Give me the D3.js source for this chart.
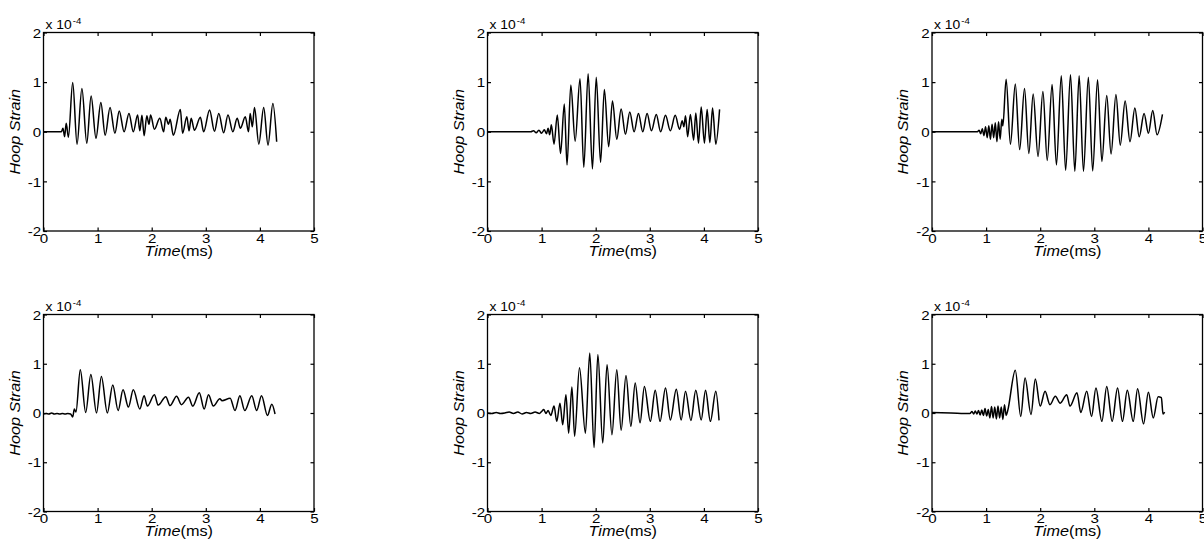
<!DOCTYPE html>
<html>
<head>
<meta charset="utf-8">
<script src="https://d3js.org/d3.v7.min.js"></script>
<style>
	body { margin: 0; background: #fff; }
	svg text { font-family: Arial, "Liberation Sans", Helvetica, sans-serif; fill: #000; }
</style>
</head>
<body>
<svg id="chart" width="1204" height="546"></svg>
<script>
// hoop strain records, values in units of 1e-4, time in ms
// (peaks and troughs)
var t1 = [0, 0.33, 0.36, 0.39, 0.42, 0.46, 0.54, 0.62, 0.71, 0.80,
	0.88, 0.97, 1.06, 1.14, 1.23, 1.32, 1.40, 1.49, 1.58, 1.66,
	1.74, 1.78, 1.82, 1.86, 1.91, 1.95, 1.98, 2.05, 2.15, 2.22,
	2.26, 2.31, 2.34, 2.40, 2.53, 2.57, 2.65, 2.69, 2.73, 2.79,
	2.90, 2.96, 3.07, 3.16, 3.24, 3.33, 3.41, 3.50, 3.58, 3.64,
	3.73, 3.79, 3.82, 3.86, 3.90, 3.98, 4.07, 4.15, 4.24, 4.31];
var v1 = [0, 0, 0.07, -0.10, 0.17, -0.11, 0.99, -0.25, 0.87, -0.23,
	0.72, -0.13, 0.59, -0.07, 0.49, -0.03, 0.42, 0.00, 0.37, 0.00,
	0.34, 0.02, 0.33, -0.08, 0.32, 0.15, 0.34, 0.05, 0.27, 0.00,
	0.29, 0.15, 0.25, -0.07, 0.45, -0.03, 0.30, 0.02, 0.27, 0.03,
	0.29, 0.00, 0.44, 0.01, 0.37, -0.02, 0.34, 0.00, 0.27, 0.07,
	0.30, 0.00, 0.37, 0.10, 0.49, -0.25, 0.49, -0.27, 0.57, -0.20];

var t2 = [0, 0.80, 0.85, 0.90, 0.95, 1.00, 1.05, 1.09, 1.12, 1.15,
	1.18, 1.23, 1.29, 1.35, 1.42, 1.47, 1.54, 1.62, 1.71, 1.78,
	1.86, 1.94, 2.01, 2.09, 2.16, 2.24, 2.31, 2.39, 2.47, 2.55,
	2.63, 2.71, 2.79, 2.87, 2.95, 3.03, 3.12, 3.20, 3.29, 3.38,
	3.47, 3.55, 3.60, 3.63, 3.66, 3.70, 3.75, 3.81, 3.85, 3.90,
	3.95, 4.01, 4.06, 4.11, 4.16, 4.22, 4.29];
var v2 = [0, 0, 0.02, -0.02, 0.03, -0.03, 0.04, -0.04, 0.07, -0.06,
	0.14, -0.25, 0.34, -0.44, 0.56, -0.67, 0.94, -0.19, 1.07, -0.72,
	1.17, -0.75, 1.10, -0.62, 0.85, -0.30, 0.62, -0.15, 0.46, -0.05,
	0.40, 0.00, 0.37, 0.00, 0.37, 0.02, 0.35, 0.00, 0.33, 0.02,
	0.33, 0.05, 0.22, 0.10, 0.32, -0.10, 0.35, -0.17, 0.38, -0.23,
	0.50, -0.23, 0.45, -0.22, 0.48, -0.25, 0.45];

var t3 = [0, 0.84, 0.87, 0.90, 0.93, 0.96, 0.99, 1.02, 1.05, 1.08,
	1.11, 1.14, 1.17, 1.20, 1.23, 1.26, 1.29, 1.31, 1.37, 1.45,
	1.54, 1.62, 1.71, 1.79, 1.87, 1.96, 2.05, 2.13, 2.22, 2.30,
	2.39, 2.47, 2.56, 2.64, 2.72, 2.80, 2.89, 2.97, 3.06, 3.14,
	3.23, 3.31, 3.40, 3.48, 3.57, 3.66, 3.75, 3.83, 3.92, 4.00,
	4.08, 4.16, 4.26];
var v3 = [0, 0, 0.03, -0.04, 0.06, -0.08, 0.10, -0.12, 0.12, -0.15,
	0.15, -0.12, 0.18, -0.20, 0.20, -0.15, 0.25, 0.12, 1.06, -0.25,
	0.96, -0.36, 0.87, -0.44, 0.76, -0.50, 0.81, -0.58, 0.95, -0.67,
	1.13, -0.78, 1.15, -0.80, 1.13, -0.80, 1.10, -0.79, 1.05, -0.60,
	0.73, -0.45, 0.75, -0.27, 0.62, -0.20, 0.48, -0.10, 0.37, -0.03,
	0.43, -0.06, 0.35];

var t4 = [0, 0.05, 0.10, 0.15, 0.20, 0.25, 0.30, 0.35, 0.40, 0.45,
	0.50, 0.54, 0.57, 0.60, 0.68, 0.78, 0.875, 0.98, 1.07, 1.18,
	1.28, 1.38, 1.47, 1.57, 1.66, 1.78, 1.86, 1.92, 2.05, 2.12,
	2.26, 2.34, 2.46, 2.55, 2.68, 2.76, 2.88, 2.97, 3.05, 3.14,
	3.26, 3.30, 3.45, 3.54, 3.63, 3.72, 3.85, 3.94, 4.03, 4.14,
	4.22, 4.28];
var v4 = [-0.02, -0.01, -0.02, 0.00, -0.02, -0.01, -0.02, -0.01, -0.02, -0.01,
	-0.02, -0.08, 0.08, 0.02, 0.88, 0.01, 0.78, 0.00, 0.74, 0.00,
	0.57, 0.05, 0.47, 0.12, 0.47, 0.08, 0.35, 0.14, 0.37, 0.16,
	0.33, 0.15, 0.34, 0.17, 0.32, 0.14, 0.41, 0.08, 0.37, 0.14,
	0.29, 0.25, 0.30, 0.05, 0.35, 0.05, 0.35, 0.05, 0.35, -0.05,
	0.18, -0.02];

var t5 = [0, 0.08, 0.16, 0.24, 0.32, 0.40, 0.48, 0.56, 0.64, 0.72,
	0.80, 0.88, 0.96, 1.00, 1.04, 1.08, 1.12, 1.17, 1.23, 1.28,
	1.34, 1.39, 1.45, 1.50, 1.56, 1.61, 1.70, 1.81, 1.89, 1.97,
	2.04, 2.13, 2.21, 2.30, 2.39, 2.47, 2.56, 2.65, 2.73, 2.82,
	2.90, 3.01, 3.10, 3.19, 3.29, 3.38, 3.49, 3.58, 3.66, 3.76,
	3.85, 3.95, 4.03, 4.12, 4.22, 4.28];
var v5 = [0, -0.01, 0.01, -0.01, 0.00, 0.02, -0.01, 0.02, -0.02, 0.01,
	-0.01, 0.02, -0.01, 0.03, 0.07, -0.01, 0.05, -0.05, 0.14, -0.17,
	0.20, -0.24, 0.37, -0.41, 0.53, -0.47, 0.92, -0.41, 1.22, -0.70,
	1.19, -0.61, 0.98, -0.44, 0.88, -0.35, 0.76, -0.27, 0.61, -0.20,
	0.54, -0.17, 0.46, -0.17, 0.51, -0.14, 0.48, -0.14, 0.44, -0.15,
	0.46, -0.14, 0.46, -0.17, 0.44, -0.15];

var t6 = [0, 0.35, 0.70, 0.74, 0.77, 0.80, 0.83, 0.86, 0.89, 0.92,
	0.95, 0.98, 1.01, 1.04, 1.07, 1.10, 1.13, 1.16, 1.19, 1.22,
	1.25, 1.28, 1.31, 1.34, 1.37, 1.40, 1.54, 1.64, 1.72, 1.83,
	1.91, 2.00, 2.09, 2.18, 2.28, 2.37, 2.49, 2.55, 2.68, 2.75,
	2.86, 2.95, 3.03, 3.14, 3.23, 3.33, 3.43, 3.52, 3.61, 3.72,
	3.80, 3.91, 4.00, 4.09, 4.18, 4.24, 4.27, 4.30];
var v6 = [0.01, 0.00, -0.01, 0.03, -0.02, 0.04, -0.02, 0.05, -0.04, 0.06,
	-0.05, 0.09, -0.06, 0.07, -0.10, 0.13, -0.10, 0.12, -0.12, 0.14,
	-0.10, 0.12, -0.13, 0.17, -0.05, 0.05, 0.87, -0.07, 0.71, -0.03,
	0.69, 0.14, 0.44, 0.17, 0.34, 0.20, 0.37, 0.14, 0.41, 0.01,
	0.44, -0.07, 0.51, -0.17, 0.54, -0.17, 0.51, -0.17, 0.46, -0.17,
	0.49, -0.22, 0.42, -0.10, 0.33, 0.31, -0.02, 0.02];

var xTicks = [0, 1, 2, 3, 4, 5];
var yTicks = [-2, -1, 0, 1, 2];
var yTickLabels = ["-2", "-1", "0", "1", "2"];
var xLabelName = "Time", xLabelUnit = "(ms)";
var yLabelText = "Hoop Strain";
var expBase = "x 10", expPower = "-4";

// layout
var WIDTH = 270.5, STRETCH = 1.12;
var COLS = [43.5, 487.5, 932];
var ROWS = [{ top: 32.5, bottom: 231 }, { top: 314.5, bottom: 511.5 }];

var panels = [
	{ t: t1, v: v1, col: 0, row: 0 },
	{ t: t2, v: v2, col: 1, row: 0 },
	{ t: t3, v: v3, col: 2, row: 0 },
	{ t: t4, v: v4, col: 0, row: 1 },
	{ t: t5, v: v5, col: 1, row: 1 },
	{ t: t6, v: v6, col: 2, row: 1 }
];

function styleAxis(g) {
	g.attr("font-size", 13.5).attr("font-family", null);
	g.select(".domain").remove();
	g.selectAll(".tick line").attr("stroke", "#000").attr("stroke-width", 1.2);
}

function drawPanel(vis, p) {
	var left = COLS[p.col], top = ROWS[p.row].top, bottom = ROWS[p.row].bottom;
	var xScale = d3.scaleLinear().domain([0, 5]).range([left, left + WIDTH]);
	var yScale = d3.scaleLinear().domain([-2, 2]).range([bottom, top]);

	var g = vis.append("g");

	// box
	g.append("rect").attr("x", left).attr("y", top)
		.attr("width", WIDTH).attr("height", bottom - top)
		.attr("fill", "none").attr("stroke", "#000").attr("stroke-width", 1.3);

	// inward ticks on all four sides
	var xb = g.append("g").attr("transform", "translate(0," + bottom + ")")
		.call(d3.axisBottom(xScale).tickValues(xTicks).tickSizeInner(-3.5).tickSizeOuter(0)
			.tickFormat(function(d) { return String(d); }));
	styleAxis(xb);
	xb.selectAll("text").attr("y", 11.8).attr("dy", 0)
		.attr("transform", "scale(" + STRETCH + ",1)");

	var xt = g.append("g").attr("transform", "translate(0," + top + ")")
		.call(d3.axisTop(xScale).tickValues(xTicks).tickSizeInner(-3.5).tickSizeOuter(0).tickFormat(""));
	styleAxis(xt);

	var yl = g.append("g").attr("transform", "translate(" + left + ",0)")
		.call(d3.axisLeft(yScale).tickValues(yTicks).tickSizeInner(-3.5).tickSizeOuter(0).tickPadding(2)
			.tickFormat(function(d, i) { return yTickLabels[i]; }));
	styleAxis(yl);
	yl.selectAll("text").attr("dy", "0.35em")
		.attr("transform", "scale(" + STRETCH + ",1)");

	var yr = g.append("g").attr("transform", "translate(" + (left + WIDTH) + ",0)")
		.call(d3.axisRight(yScale).tickValues(yTicks).tickSizeInner(-3.5).tickSizeOuter(0).tickFormat(""));
	styleAxis(yr);

	// signal
	var lineGen = d3.line()
		.x(function(d) { return xScale(d[0]); })
		.y(function(d) { return yScale(d[1]); })
		.curve(d3.curveMonotoneX);
	var pts = p.t.map(function(t, i) { return [t, p.v[i]]; });
	g.append("path").attr("d", lineGen(pts))
		.attr("fill", "none").attr("stroke", "#000")
		.attr("stroke-width", 1.5).attr("stroke-linejoin", "round");

	// x 10^-4 multiplier
	var ex = g.append("text")
		.attr("transform", "translate(" + (left + 2) + "," + (top - 3.2) + ") scale(1.07,1)")
		.attr("font-size", 13).text(expBase);
	ex.append("tspan").attr("font-size", 9).attr("dy", -5.4).attr("dx", 1).text(expPower);

	// x label
	var xl = g.append("text")
		.attr("transform", "translate(" + (left + WIDTH / 2) + "," + (bottom + 24.5) + ") scale(" + STRETCH + ",1)")
		.attr("text-anchor", "middle").attr("font-size", 14.5);
	xl.append("tspan").attr("font-style", "italic").text(xLabelName);
	xl.append("tspan").text(xLabelUnit);

	// y label
	g.append("text")
		.attr("transform", "translate(" + (left - 24) + "," + ((top + bottom) / 2) + ") rotate(-90) scale(" + STRETCH + ",1)")
		.attr("text-anchor", "middle").attr("font-size", 14.5).attr("font-style", "italic")
		.text(yLabelText);
}

var vis = d3.select("#chart");
panels.forEach(function(p) { drawPanel(vis, p); });
</script>
</body>
</html>
